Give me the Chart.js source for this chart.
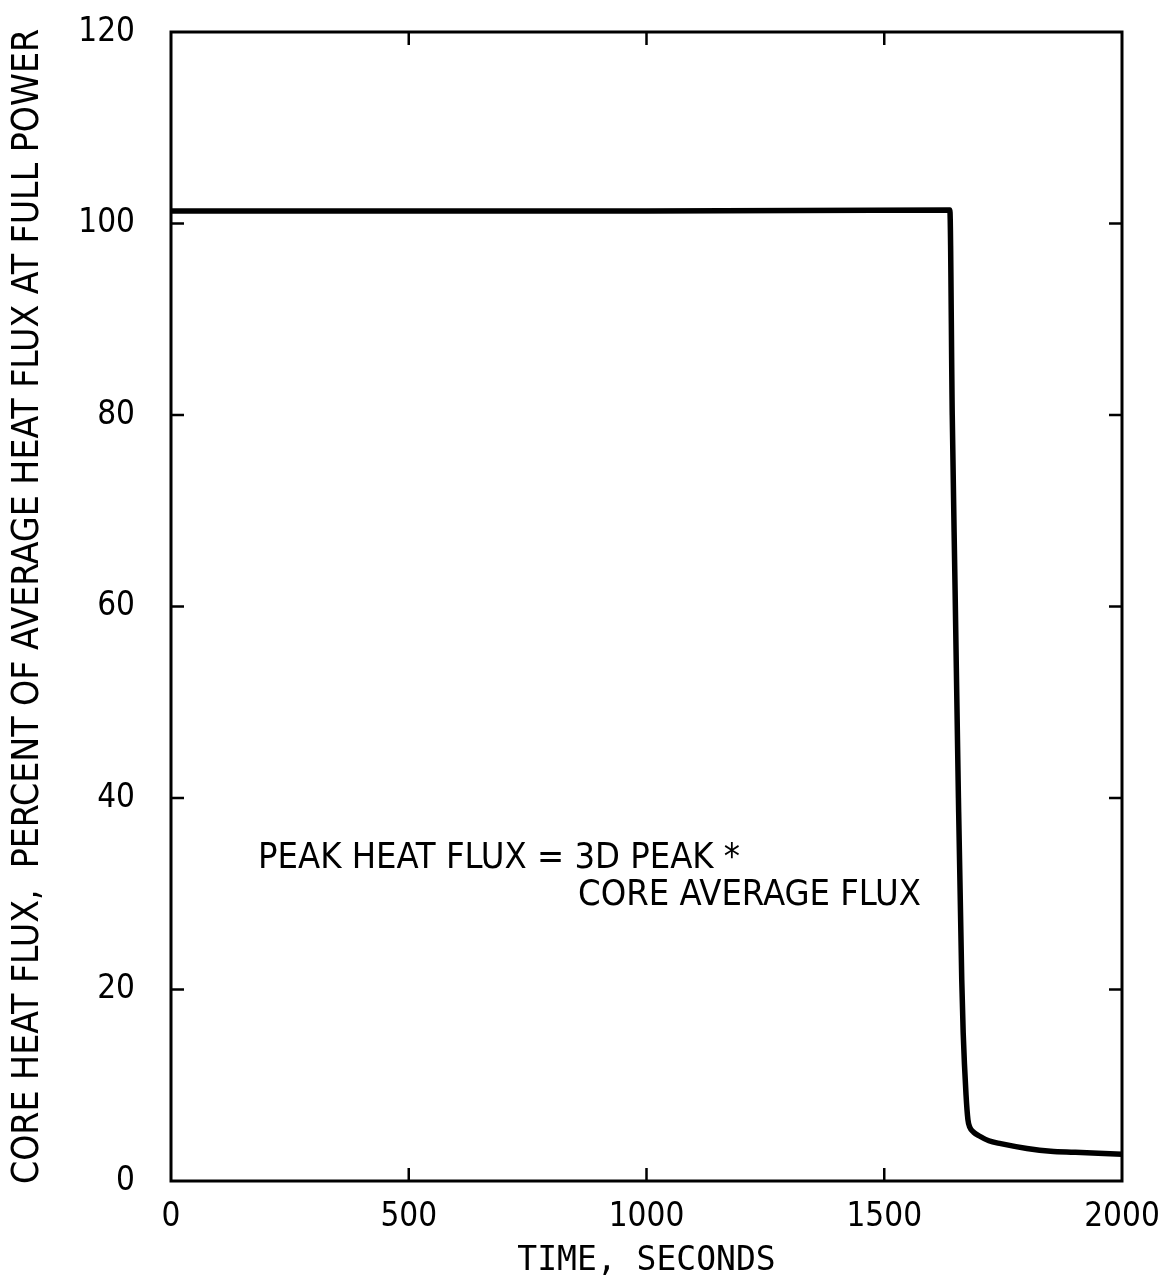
<!DOCTYPE html>
<html>
<head>
<meta charset="utf-8">
<script src="https://cdn.jsdelivr.net/npm/chart.js@4.4.1/dist/chart.umd.min.js"></script>
<style>
  html, body { margin: 0; padding: 0; background: #fff; }
  #wrap { width: 1160px; height: 1287px; position: relative; }
</style>
</head>
<body>
<div id="wrap"><canvas id="fluxChart"></canvas></div>
<script>
// time in seconds, heat flux in percent of average at full power
const timeSec = [0, 1000, 1638, 1643, 1649, 1656, 1663, 1666, 1672, 1676, 1680, 1688, 1700, 1720, 1745, 1800, 1850, 1900, 1950, 2000];
const heatFlux = [101.3, 101.3, 101.4, 80, 61.7, 40, 21, 15.5, 9, 6.4, 5.6, 5.1, 4.7, 4.2, 3.9, 3.4, 3.1, 3.0, 2.9, 2.8];

const xTicks = [0, 500, 1000, 1500, 2000];
const yTicks = [0, 20, 40, 60, 80, 100, 120];

const noteLines = ["PEAK HEAT FLUX = 3D PEAK *", "CORE AVERAGE FLUX"];

// inward tick marks on all four sides of the frame
const frameTicks = {
    id: "frameTicks",
    afterDraw(chart) {
        const ctx = chart.ctx;
        const a = chart.chartArea;
        const xs = chart.scales.x, ys = chart.scales.y;
        const len = 13;
        ctx.save();
        ctx.strokeStyle = "#000";
        ctx.lineWidth = 2.5;
        ctx.beginPath();
        xTicks.slice(1, -1).forEach(v => {
            const px = xs.getPixelForValue(v);
            ctx.moveTo(px, a.bottom); ctx.lineTo(px, a.bottom - len);
            ctx.moveTo(px, a.top); ctx.lineTo(px, a.top + len);
        });
        yTicks.slice(1, -1).forEach(v => {
            const py = ys.getPixelForValue(v);
            ctx.moveTo(a.left, py); ctx.lineTo(a.left + len, py);
            ctx.moveTo(a.right, py); ctx.lineTo(a.right - len, py);
        });
        ctx.stroke();

        // frame
        ctx.lineWidth = 3;
        ctx.strokeRect(a.left, a.top, a.right - a.left, a.bottom - a.top);

        // note text
        ctx.fillStyle = "#000";
        ctx.font = "36px 'DejaVu Sans Condensed', 'DejaVu Sans', sans-serif";
        ctx.textBaseline = "alphabetic";
        ctx.textAlign = "left";
        ctx.fillText(noteLines[0], xs.getPixelForValue(183), ys.getPixelForValue(32.7));
        ctx.fillText(noteLines[1], xs.getPixelForValue(856), ys.getPixelForValue(28.8));
        ctx.restore();
    }
};

const tickFont = { family: "'Liberation Sans Narrow', 'DejaVu Sans Condensed', sans-serif", size: 33 };

new Chart(document.getElementById("fluxChart"), {
    type: "line",
    data: {
        datasets: [{
            data: timeSec.map((t, i) => ({ x: t, y: heatFlux[i] })),
            borderColor: "#000",
            borderWidth: 5.5,
            pointRadius: 0,
            cubicInterpolationMode: "monotone",
            fill: false
        }]
    },
    options: {
        responsive: true,
        maintainAspectRatio: false,
        animation: false,
        layout: { padding: { left: 0, top: 32, right: 38, bottom: 0 } },
        plugins: {
            legend: { display: false },
            tooltip: { enabled: false }
        },
        scales: {
            x: {
                type: "linear",
                min: 0,
                max: 2000,
                afterBuildTicks(scale) { scale.ticks = xTicks.map(v => ({ value: v })); },
                afterFit(scale) {
                    scale.height = 106;
                    scale.paddingLeft = 0;
                    scale.paddingRight = 0;
                },
                grid: { display: false, drawTicks: false },
                border: { display: false },
                ticks: {
                    color: "#000",
                    padding: 17,
                    font: tickFont,
                    callback: v => String(v)
                },
                title: {
                    display: true,
                    text: "TIME, SECONDS",
                    color: "#000",
                    padding: { top: 0, bottom: 6 },
                    font: { family: "'DejaVu Sans Mono', monospace", size: 33 }
                }
            },
            y: {
                type: "linear",
                min: 0,
                max: 120,
                afterBuildTicks(scale) { scale.ticks = yTicks.map(v => ({ value: v })); },
                afterFit(scale) {
                    scale.width = 171;
                    scale.paddingTop = 0;
                    scale.paddingBottom = 0;
                },
                grid: { display: false, drawTicks: false },
                border: { display: false },
                ticks: {
                    color: "#000",
                    padding: 36,
                    font: tickFont,
                    callback: v => String(v)
                },
                title: {
                    display: true,
                    text: "CORE HEAT FLUX,  PERCENT OF AVERAGE HEAT FLUX AT FULL POWER",
                    color: "#000",
                    padding: { top: 6, bottom: 0 },
                    font: { family: "'DejaVu Sans Condensed', 'DejaVu Sans', sans-serif", size: 37 }
                }
            }
        }
    },
    plugins: [frameTicks]
});
</script>
</body>
</html>
